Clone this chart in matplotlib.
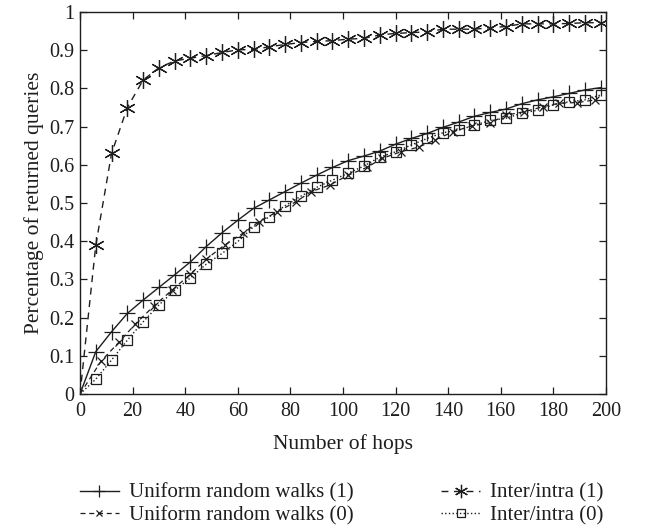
import matplotlib
matplotlib.use("Agg")
import matplotlib.pyplot as plt

plt.rcParams['font.family'] = ['Liberation Serif', 'DejaVu Serif']

# hop positions of the markers (the curves all start at the origin)
hops = [0, 6, 12, 18, 24, 30, 36, 42, 48, 54, 60, 66, 72, 78, 84, 90, 96,
        102, 108, 114, 120, 126, 132, 138, 144, 150, 156, 162, 168, 174,
        180, 186, 192, 198]
hops_x = [0, 8, 15, 21, 28, 35, 42, 48, 55, 62, 68, 75, 82, 88, 95, 102,
          109, 115, 122, 129, 135, 142, 149, 156, 162, 169, 176, 182, 189, 196]

uniform_1 = [0, 0.111, 0.163, 0.211, 0.246, 0.279, 0.312, 0.346, 0.386, 0.422,
             0.455, 0.486, 0.508, 0.530, 0.552, 0.573, 0.593, 0.611, 0.623,
             0.636, 0.654, 0.669, 0.682, 0.698, 0.712, 0.727, 0.737, 0.746,
             0.760, 0.770, 0.778, 0.787, 0.796, 0.802]
uniform_0 = [0, 0.086, 0.137, 0.183, 0.230, 0.272, 0.314, 0.353, 0.390, 0.421,
             0.451, 0.477, 0.503, 0.530, 0.547, 0.573, 0.593, 0.617, 0.634,
             0.647, 0.665, 0.687, 0.702, 0.710, 0.730, 0.739, 0.752, 0.761,
             0.763, 0.770]
inter_1 = [0, 0.390, 0.630, 0.750, 0.822, 0.854, 0.872, 0.879, 0.886, 0.894,
           0.901, 0.902, 0.909, 0.915, 0.920, 0.923, 0.925, 0.929, 0.931,
           0.940, 0.944, 0.946, 0.948, 0.955, 0.955, 0.955, 0.959, 0.962,
           0.969, 0.969, 0.969, 0.970, 0.972, 0.972]
inter_0 = [0, 0.039, 0.089, 0.141, 0.189, 0.233, 0.272, 0.304, 0.340, 0.368,
           0.399, 0.438, 0.464, 0.493, 0.518, 0.541, 0.560, 0.578, 0.597,
           0.620, 0.634, 0.652, 0.669, 0.684, 0.691, 0.704, 0.716, 0.722,
           0.735, 0.743, 0.757, 0.765, 0.770, 0.783]

xticks = list(range(0, 201, 20))
yticks = [0, 0.1, 0.2, 0.3, 0.4, 0.5, 0.6, 0.7, 0.8, 0.9, 1]
ytick_labels = ['0', '0.1', '0.2', '0.3', '0.4', '0.5', '0.6', '0.7', '0.8', '0.9', '1']

COL = '#1e1e1e'
asterisk = (6, 2, 0)

fig = plt.figure(figsize=(6.49, 5.29), dpi=100)
ax = fig.add_axes([0.1233, 0.2552, 0.8104, 0.7221])

l1, = ax.plot(hops, uniform_1, '-', color=COL, lw=1.0, marker='+', ms=11,
              mew=0.9, markevery=slice(1, None), label='Uniform random walks (1)')
l2, = ax.plot(hops_x, uniform_0, '--', color=COL, lw=0.9, dashes=(4, 3),
              marker='x', ms=6, mew=0.9, markevery=slice(1, None),
              label='Uniform random walks (0)')
l3, = ax.plot(hops, inter_1, '--', color=COL, lw=1.0, dashes=(5, 4),
              marker=asterisk, ms=12, mew=0.9, markevery=slice(1, None),
              label='Inter/intra (1)')
l4, = ax.plot(hops, inter_0, ':', color=COL, lw=1.0, marker='s', ms=7,
              mew=0.9, mfc='none', markevery=slice(1, None),
              label='Inter/intra (0)')

ax.set_xlim(0, 200)
ax.set_ylim(0, 1)
ax.set_xticks(xticks)
ax.set_yticks(yticks)
ax.set_yticklabels(ytick_labels)
ax.tick_params(direction='in', top=True, right=True, length=5, width=0.9,
               labelsize=14.5, colors=COL)
ax.tick_params(axis='x', pad=6)
ax.tick_params(axis='y', pad=4)
for s in ax.spines.values():
    s.set_linewidth(1.0)
    s.set_color(COL)

ax.set_xlabel('Number of hops', fontsize=15.5, color=COL, labelpad=9)
ax.set_ylabel('Percentage of returned queries', fontsize=15.5, color=COL, labelpad=4)

fig.legend(handles=[l1, l2, l3, l4], loc='upper center', ncol=2,
           bbox_to_anchor=(0.526, 0.102), frameon=False, fontsize=15,
           handlelength=1.9, handletextpad=0.45, columnspacing=4.2,
           labelspacing=0.15, borderaxespad=0, labelcolor=COL,
           markerscale=0.8)

fig.savefig('out.png', dpi=100)
